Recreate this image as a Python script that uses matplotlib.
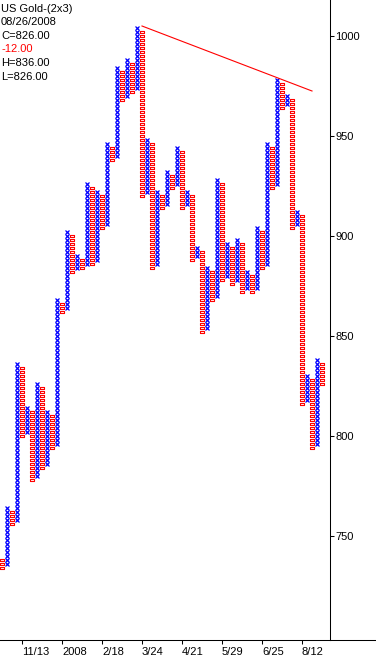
import matplotlib
matplotlib.use('Agg')
import matplotlib.pyplot as plt
from matplotlib.lines import Line2D
import numpy as np

plt.rcParams['font.family'] = ['Liberation Sans', 'DejaVu Sans']

# point & figure columns, box size 2, 3 box reversal; first column is O, then alternating
col_low = [734, 736, 756, 758, 800, 802, 778, 780, 784, 786, 794, 796, 862, 864, 882, 884,
           884, 886, 886, 888, 904, 906, 938, 940, 968, 970, 972, 974, 920, 922, 884, 886,
           914, 916, 924, 926, 914, 916, 888, 890, 852, 854, 868, 870, 878, 880, 876, 878,
           872, 874, 872, 874, 884, 886, 924, 926, 964, 966, 904, 906, 816, 818, 794, 796, 826]
col_high = [738, 764, 762, 836, 834, 814, 812, 826, 824, 812, 810, 868, 866, 902, 900, 890,
            888, 926, 924, 922, 920, 946, 944, 984, 982, 988, 986, 1004, 1002, 948, 946, 922,
            920, 932, 930, 944, 942, 922, 920, 894, 892, 884, 882, 928, 926, 896, 894, 898,
            896, 882, 880, 904, 902, 946, 944, 978, 976, 970, 968, 912, 910, 830, 828, 838, 836]
box = 2

x_ticks = [4, 12, 20, 28, 36, 44, 52, 60]
x_labels = ['11/13', '2008', '2/18', '3/24', '4/21', '5/29', '6/25', '8/12']
y_ticks = [750, 800, 850, 900, 950, 1000]

trend_x = [28, 62]
trend_y = [1005, 972.5]

header = ['US Gold-(2x3)', '08/26/2008', 'C=826.00', '-12.00', 'H=836.00', 'L=826.00']
header_colors = ['black', 'black', 'black', 'red', 'black', 'black']

W, H = 376, 657
fig = plt.figure(figsize=(W / 100, H / 100), dpi=100)
ax = fig.add_axes([0, 17 / H, 330 / W, 640 / H])

xs_x, ys_x, xs_o, ys_o = [], [], [], []
for i, (lo, hi) in enumerate(zip(col_low, col_high)):
    p = np.arange(lo, hi + 1, box)
    if i % 2 == 0:
        xs_o += [i] * len(p)
        ys_o += list(p)
    else:
        xs_x += [i] * len(p)
        ys_x += list(p)

rect = [(-1, -0.62), (1, -0.62), (1, 0.62), (-1, 0.62), (-1, -0.62)]
ax.plot(xs_o, ys_o, linestyle='none', marker=rect, markersize=2.5,
        markerfacecolor='none', markeredgecolor='#ff0000', markeredgewidth=0.8)
ax.plot(xs_x, ys_x, linestyle='none', marker='x', markersize=2.8,
        color='#0000ff', markeredgewidth=0.9)

ax.plot(trend_x, trend_y, color='#ff0000', lw=0.8)

ax.set_xlim(-0.4, 65.6)
ax.set_ylim(698, 1018)

for s in ['top', 'left']:
    ax.spines[s].set_visible(False)
for s in ['right', 'bottom']:
    ax.spines[s].set_linewidth(0.75)
    ax.spines[s].set_color('black')

ax.yaxis.tick_right()
ax.set_yticks(y_ticks)
ax.set_yticklabels([str(v) for v in y_ticks])
ax.set_xticks(x_ticks)
ax.set_xticklabels(x_labels)
for lab in ax.get_xticklabels():
    lab.set_ha('left')
ax.tick_params(axis='both', direction='out', length=3, width=0.75, labelsize=8, pad=1)
ax.tick_params(axis='x', pad=2)

fig.add_artist(Line2D([330 / W, 1], [17 / H, 17 / H], color='black', lw=0.75))

base = [11.7, 25.3, 38.9, 52.5, 66.1, 79.7]
for t, c, b in zip(header, header_colors, base):
    fig.text(1 / W, 1 - b / H, t, color=c, fontsize=8, va='baseline', ha='left')

fig.savefig('out.png', dpi=100)
